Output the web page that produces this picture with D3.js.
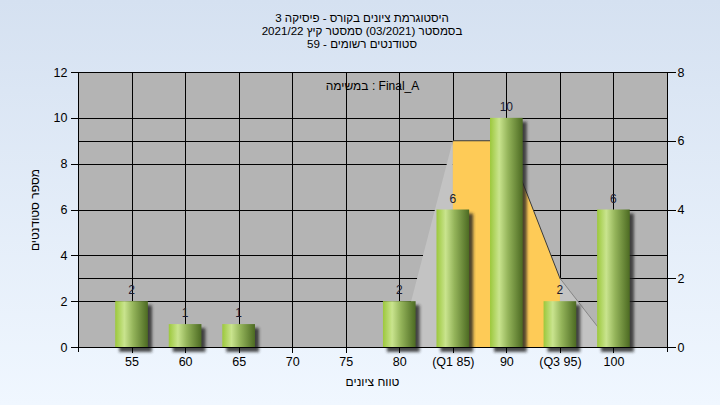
<!DOCTYPE html>
<html>
<head>
<meta charset="utf-8">
<script src="https://cdn.jsdelivr.net/npm/d3@7"></script>
<style>
html,body{margin:0;padding:0;}
body{width:720px;height:405px;overflow:hidden;}
svg{display:block;font-family:"Liberation Sans",Arial,sans-serif;}
</style>
</head>
<body>
<svg id="chart" width="720" height="405"></svg>
<script>
// ---- data ----
const titleLines = ["היסטוגרמת ציונים בקורס - פיסיקה 3", "בסמסטר (03/2021) סמסטר קיץ 2021/22", "סטודנטים רשומים - 59"];
const taskLabel = "במשימה : Final_A";
const xAxisTitle = "טווח ציונים";
const yAxisTitle = "מספר סטודנטים";
const categories = [55, 60, 65, 70, 75, 80, 85, 90, 95, 100];
const tickLabels = ["55", "60", "65", "70", "75", "80", "(Q1 85)", "90", "(Q3 95)", "100"];
const counts = [2, 1, 1, 0, 0, 2, 6, 10, 2, 6];
const curveX = [80, 85, 90, 95, 100];
const curveValues = [0, 6, 6, 2, 0];
const quartiles = [85, 95];
const leftTicks = [0, 2, 4, 6, 8, 10, 12];
const rightTicks = [0, 2, 4, 6, 8];

// ---- layout ----
const L = 78, R = 667, T = 72, B = 347;
const svg = d3.select("#chart");
const defs = svg.append("defs");

const bg = defs.append("linearGradient").attr("id", "bg").attr("x1", 0).attr("y1", 0).attr("x2", 0).attr("y2", 1);
bg.append("stop").attr("offset", "0%").attr("stop-color", "#d5e1f1");
bg.append("stop").attr("offset", "100%").attr("stop-color", "#f0f7ff");

const barG = defs.append("linearGradient").attr("id", "barGrad").attr("x1", 0).attr("y1", 0).attr("x2", 1).attr("y2", 0);
[["0%", "#9cc83c"], ["28%", "#c9e48e"], ["55%", "#94b45a"], ["100%", "#4c6a22"]].forEach(([o, c]) =>
  barG.append("stop").attr("offset", o).attr("stop-color", c));

const sh = defs.append("filter").attr("id", "shadow").attr("x", "-50%").attr("y", "-50%").attr("width", "200%").attr("height", "200%");
sh.append("feGaussianBlur").attr("stdDeviation", 1.8);

svg.append("rect").attr("width", 720).attr("height", 405).attr("fill", "url(#bg)");

const x = d3.scaleLinear().domain([50, 105]).range([L, R]);
const yL = d3.scaleLinear().domain([0, 12]).range([B, T]);
const yR = d3.scaleLinear().domain([0, 8]).range([B, T]);

// plot background
svg.append("rect").attr("x", L).attr("y", T).attr("width", R - L).attr("height", B - T).attr("fill", "#b4b4b4");

// clip paths
defs.append("clipPath").attr("id", "clipQ").append("rect")
  .attr("x", x(quartiles[0])).attr("y", T).attr("width", x(quartiles[1]) - x(quartiles[0])).attr("height", B - T);
const outside = defs.append("clipPath").attr("id", "clipOut");
outside.append("rect").attr("x", L).attr("y", T).attr("width", x(quartiles[0]) - L).attr("height", B - T);
outside.append("rect").attr("x", x(quartiles[1])).attr("y", T).attr("width", R - x(quartiles[1])).attr("height", B - T);
defs.append("clipPath").attr("id", "clipRightOfQ3").append("rect")
  .attr("x", x(quartiles[1])).attr("y", T).attr("width", R - x(quartiles[1])).attr("height", B - T);

// gridlines
const grid = svg.append("g").attr("stroke", "#000").attr("stroke-width", 1).attr("shape-rendering", "crispEdges");
const hLines = leftTicks.map(v => yL(v)).concat(rightTicks.map(v => yR(v)));
grid.selectAll("line.h").data(hLines).join("line").attr("class", "h")
  .attr("x1", L).attr("x2", R).attr("y1", d => Math.round(d) + 0.5).attr("y2", d => Math.round(d) + 0.5);
grid.selectAll("line.v").data(categories).join("line").attr("class", "v")
  .attr("x1", d => Math.round(x(d)) + 0.5).attr("x2", d => Math.round(x(d)) + 0.5).attr("y1", T).attr("y2", B);

// area (right axis)
const pts = curveX.map((v, i) => [v, curveValues[i]]);
const area = d3.area().x(d => x(d[0])).y0(yR(0)).y1(d => yR(d[1]));
const line = d3.line().x(d => x(d[0])).y(d => yR(d[1]));
svg.append("path").datum(pts).attr("d", area).attr("fill", "#c3c3c3").attr("clip-path", "url(#clipOut)");
svg.append("path").datum(pts).attr("d", area).attr("fill", "#fecb57").attr("clip-path", "url(#clipQ)");
svg.append("path").datum(pts).attr("d", line).attr("fill", "none").attr("stroke", "#3a3a3a").attr("stroke-width", 1).attr("clip-path", "url(#clipQ)");
svg.append("path").datum(pts).attr("d", line).attr("fill", "none").attr("stroke", "#858585").attr("stroke-width", 1).attr("clip-path", "url(#clipRightOfQ3)");

// bars
const step = x(categories[1]) - x(categories[0]);
const bw = step * 0.61;
const data = categories.map((c, i) => ({ c, v: counts[i], label: tickLabels[i] })).filter(d => d.v > 0);
const bars = svg.append("g");
bars.selectAll("rect.sh").data(data).join("rect").attr("class", "sh")
  .attr("x", d => x(d.c) - bw / 2 + 4).attr("y", d => yL(d.v) + 4)
  .attr("width", bw).attr("height", d => B - yL(d.v) + 1)
  .attr("fill", "#202020").attr("opacity", 0.8).attr("filter", "url(#shadow)");
bars.selectAll("rect.bar").data(data).join("rect").attr("class", "bar")
  .attr("x", d => x(d.c) - bw / 2).attr("y", d => yL(d.v))
  .attr("width", bw).attr("height", d => B - yL(d.v))
  .attr("fill", "url(#barGrad)");
bars.selectAll("text").data(data).join("text")
  .attr("x", d => x(d.c)).attr("y", d => yL(d.v) - 7)
  .attr("text-anchor", "middle").attr("font-size", 12).attr("fill", "#1a1a30")
  .text(d => d.v);

// axes
const axisStyle = g => {
  g.selectAll("text").attr("font-size", 12.5).attr("fill", "#000").attr("font-family", "Liberation Sans, Arial, sans-serif");
  g.selectAll("line,path").attr("stroke", "#000").attr("shape-rendering", "crispEdges");
};
svg.append("g").attr("transform", `translate(${L + 0.5},0)`)
  .call(d3.axisLeft(yL).tickValues(leftTicks).tickSize(8).tickSizeOuter(0).tickPadding(3))
  .call(g => g.select(".domain").attr("d", `M0,${T}V${B + 5}`))
  .call(axisStyle);
svg.append("g").attr("transform", `translate(${R + 0.5},0)`)
  .call(d3.axisRight(yR).tickValues(rightTicks).tickSize(8).tickSizeOuter(0).tickPadding(2))
  .call(g => g.select(".domain").attr("d", `M0,${T}V${B + 5}`))
  .call(axisStyle);
svg.append("g").attr("transform", `translate(0,${B + 0.5})`)
  .call(d3.axisBottom(x).tickValues(categories).tickFormat((d, i) => tickLabels[i]).tickSize(5).tickSizeOuter(0).tickPadding(5))
  .call(g => g.select(".domain").attr("d", `M${L},0H${R}`))
  .call(axisStyle);
// top border
svg.append("line").attr("x1", L).attr("x2", R).attr("y1", T + 0.5).attr("y2", T + 0.5).attr("stroke", "#000").attr("shape-rendering", "crispEdges");

// titles
const title = svg.append("text").attr("x", 362).attr("text-anchor", "middle").attr("direction", "rtl")
  .attr("font-size", 11.6).attr("fill", "#000");
titleLines.forEach((t, i) => title.append("tspan").attr("x", 362).attr("y", 22 + i * 13).text(t));

svg.append("text").attr("x", (L + R) / 2).attr("y", 90).attr("text-anchor", "middle")
  .attr("font-size", 12).attr("fill", "#000").text(taskLabel);

svg.append("text").attr("x", (L + R) / 2).attr("y", 386).attr("text-anchor", "middle").attr("direction", "rtl")
  .attr("font-size", 12).attr("fill", "#000").text(xAxisTitle);

svg.append("text").attr("transform", "translate(39,210) rotate(-90)").attr("text-anchor", "middle").attr("direction", "rtl")
  .attr("font-size", 12).attr("fill", "#000").text(yAxisTitle);
</script>
</body>
</html>
